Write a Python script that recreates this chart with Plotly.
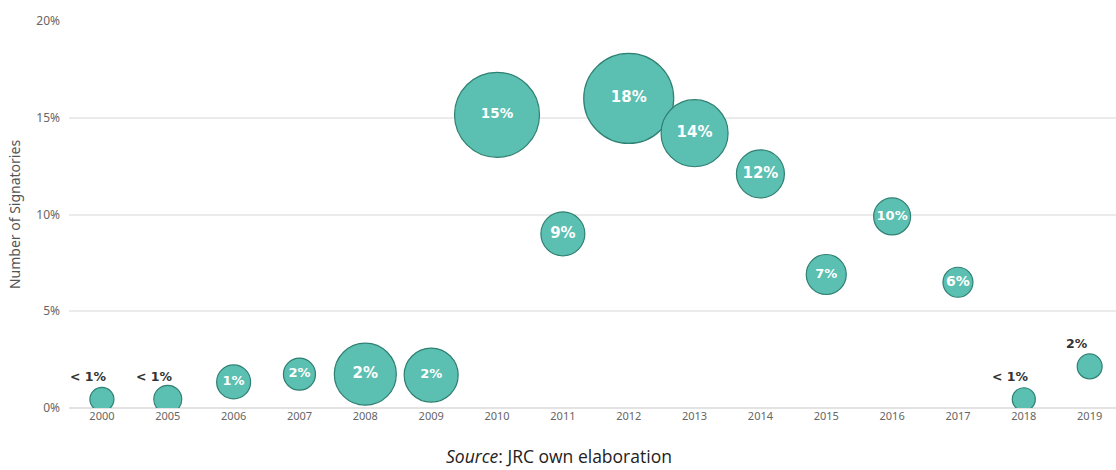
import plotly.graph_objects as go

# Signatories by year of joining
years = ["2000", "2005", "2006", "2007", "2008", "2009", "2010", "2011",
         "2012", "2013", "2014", "2015", "2016", "2017", "2018", "2019"]
share_pct = [0.45, 0.45, 1.35, 1.75, 1.75, 1.7, 15.15, 9.0,
             16.0, 14.2, 12.1, 6.9, 9.9, 6.5, 0.45, 2.15]
bubble_weight = [6.4, 8.7, 12.8, 11.4, 42.7, 32.4, 80.3, 21.5,
                 90.0, 49.9, 25.6, 17.8, 15.2, 10.0, 5.9, 6.9]
labels = ["< 1%", "< 1%", "1%", "2%", "2%", "2%", "15%", "9%",
          "18%", "14%", "12%", "7%", "10%", "6%", "< 1%", "2%"]
y_ticks = [0, 5, 10, 15, 20]
y_tick_labels = ["0%", "5%", "10%", "15%", "20%"]

# per-bubble label font size
label_font_px = [12.5, 12.5, 13, 13, 15, 13, 13.5, 15,
                 15, 15, 15, 13, 13, 14, 12.5, 12.5]

FILL = "#5BBFB1"
EDGE = "#2F8072"
MAX_DIAM = 90
SMALL = 9.5  # weights below this get their label above the bubble

inside_text = [lab if w >= SMALL else "" for lab, w in zip(labels, bubble_weight)]

fig = go.Figure()
fig.add_trace(go.Scatter(
    x=years, y=share_pct,
    mode="markers+text",
    text=inside_text,
    textposition="middle center",
    textfont=dict(family="DejaVu Sans", size=label_font_px, color="white",
                  weight="bold"),
    marker=dict(
        size=bubble_weight,
        sizemode="area",
        sizeref=2.0 * max(bubble_weight) / MAX_DIAM ** 2,
        color=FILL,
        opacity=1,
        line=dict(color=EDGE, width=1.2),
    ),
    cliponaxis=True,
    hoverinfo="skip",
    showlegend=False,
))

# labels for the small bubbles sit above them (x given as category index)
for i, (v, lab, w) in enumerate(zip(share_pct, labels, bubble_weight)):
    if w < SMALL:
        fig.add_annotation(
            x=i, y=v, text=f"<b>{lab}</b>", showarrow=False,
            xshift=-13, yshift=23,
            font=dict(family="DejaVu Sans", size=label_font_px[i], color="#333333"),
        )

fig.add_annotation(
    xref="paper", yref="paper", x=0.468, y=-0.125,
    text="<i>Source</i>: JRC own elaboration", showarrow=False,
    xanchor="center", yanchor="middle",
    font=dict(family="Open Sans", size=17.5, color="#222222"),
)

fig.update_layout(
    width=1116, height=470,
    margin=dict(l=69, r=0, t=21, b=62),
    paper_bgcolor="white", plot_bgcolor="white",
    xaxis=dict(
        type="category", categoryorder="array", categoryarray=years,
        range=[-0.5, 15.4],
        showgrid=False, zeroline=False, showline=False, ticks="",
        tickfont=dict(family="Noto Sans", size=11, color="#666666"),
    ),
    yaxis=dict(
        range=[0, 20],
        tickvals=y_ticks, ticktext=y_tick_labels,
        showgrid=True, gridcolor="#EBEBEB", gridwidth=1.5,
        zeroline=True, zerolinecolor="#E3E3E3", zerolinewidth=1.5,
        showline=False, ticks="",
        ticklabelstandoff=8,
        tickfont=dict(family="Noto Sans", size=12, color="#666666"),
        title=dict(text="Number of Signatories", standoff=12,
                   font=dict(family="Noto Sans", size=14, color="#555555")),
    ),
)

fig.write_html("out.html")
